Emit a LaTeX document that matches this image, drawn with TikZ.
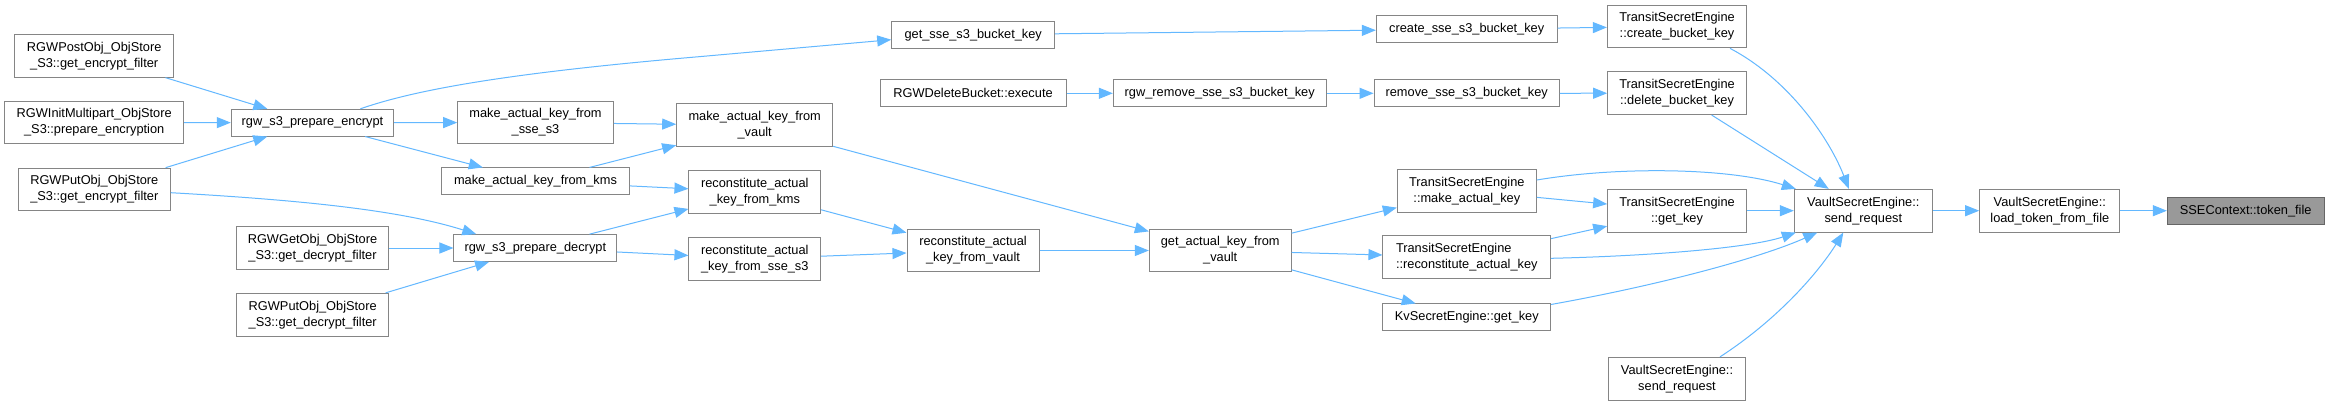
\documentclass[tikz,border=0pt]{standalone}
\usepackage{fontspec}
\setmainfont{Liberation Sans}
\usetikzlibrary{arrows.meta}
\definecolor{edgeblue}{HTML}{63B8FF}
\definecolor{nodeborder}{HTML}{858585}
\definecolor{rootfill}{HTML}{999999}
\definecolor{rootborder}{HTML}{666666}
\tikzset{
  fn/.style={draw=nodeborder, fill=white, line width=1pt, inner sep=0pt,
    font=\fontsize{12.8}{16}\selectfont, align=center, minimum height=26.7pt},
  fn2/.style={fn, minimum height=42.7pt},
  rootfn/.style={fn, fill=rootfill, draw=rootborder},
  edge/.style={draw=edgeblue, line width=1pt, -{Triangle[length=14pt,width=11pt]}}
}
\begin{document}
\begin{tikzpicture}[x=1pt,y=-1pt]
\useasboundingbox[fill=white] (0,0) rectangle (2329,405);
% column 1
\node[fn2, minimum width=159pt] (postenc) at (94.2,55.8) {RGWPostObj\_ObjStore\\\_S3::get\_encrypt\_filter};
\node[fn2, minimum width=179pt] (initmp) at (94.2,122.5) {RGWInitMultipart\_ObjStore\\\_S3::prepare\_encryption};
\node[fn2, minimum width=152pt] (putenc) at (94.3,189.5) {RGWPutObj\_ObjStore\\\_S3::get\_encrypt\_filter};
% column 2
\node[fn, minimum width=162.4pt] (prepenc) at (312.5,122.7) {rgw\_s3\_prepare\_encrypt};
\node[fn2, minimum width=152.4pt] (getdec) at (312.5,248) {RGWGetObj\_ObjStore\\\_S3::get\_decrypt\_filter};
\node[fn2, minimum width=152pt] (putdec) at (312.7,314.7) {RGWPutObj\_ObjStore\\\_S3::get\_decrypt\_filter};
% column 3
\node[fn2, minimum width=155.6pt] (mksse) at (535.5,122.5) {make\_actual\_key\_from\\\_sse\_s3};
\node[fn, minimum width=187.6pt] (mkkms) at (535.5,181.3) {make\_actual\_key\_from\_kms};
\node[fn, minimum width=162.7pt] (prepdec) at (535.3,248) {rgw\_s3\_prepare\_decrypt};
% column 4
\node[fn2, minimum width=156pt] (mkvault) at (754.7,125.2) {make\_actual\_key\_from\\\_vault};
\node[fn2, minimum width=131.7pt] (reckms) at (754.8,192) {reconstitute\_actual\\\_key\_from\_kms};
\node[fn2, minimum width=131.7pt] (recsse) at (754.8,258.7) {reconstitute\_actual\\\_key\_from\_sse\_s3};
% column 5
\node[fn, minimum width=163pt] (getsse) at (973.2,34.7) {get\_sse\_s3\_bucket\_key};
\node[fn, minimum width=186pt] (delexec) at (973,93.3) {RGWDeleteBucket::execute};
\node[fn2, minimum width=132pt] (recvault) at (973,250.5) {reconstitute\_actual\\\_key\_from\_vault};
% column 6
\node[fn, minimum width=212.7pt] (rgwremove) at (1219.7,93.3) {rgw\_remove\_sse\_s3\_bucket\_key};
\node[fn2, minimum width=141.7pt] (getvault) at (1220.2,250.5) {get\_actual\_key\_from\\\_vault};
% column 7
\node[fn, minimum width=180.7pt] (createsse) at (1466.7,29.2) {create\_sse\_s3\_bucket\_key};
\node[fn, minimum width=185.3pt] (removesse) at (1466.7,93.3) {remove\_sse\_s3\_bucket\_key};
\node[fn2, minimum width=139pt] (tsemk) at (1466.8,190.7) {TransitSecretEngine\\::make\_actual\_key};
\node[fn2, minimum width=167.7pt, align=left] (tserec) at (1466.8,257.3) {TransitSecretEngine\\::reconstitute\_actual\_key};
\node[fn, minimum width=167.7pt] (kv) at (1466.8,317.3) {KvSecretEngine::get\_key};
% column 8
\node[fn2, minimum width=139.3pt] (tsecbk) at (1677,26.5) {TransitSecretEngine\\::create\_bucket\_key};
\node[fn2, minimum width=138.7pt] (tsedbk) at (1677,93.2) {TransitSecretEngine\\::delete\_bucket\_key};
\node[fn2, minimum width=138.7pt] (tsegk) at (1677,210.7) {TransitSecretEngine\\::get\_key};
\node[fn2, minimum width=137.7pt] (vsebot) at (1677,378.7) {VaultSecretEngine::\\send\_request};
% columns 9-11
\node[fn2, minimum width=138pt] (vse) at (1863.3,210.7) {VaultSecretEngine::\\send\_request};
\node[fn2, minimum width=140.3pt] (loadtok) at (2049.8,210.7) {VaultSecretEngine::\\load\_token\_from\_file};
\node[rootfn, minimum width=156.7pt] (ssectx) at (2245.7,210.7) {SSEContext::token\_file};

% straight edges
\draw[edge] (postenc) -- (prepenc);
\draw[edge] (initmp) -- (prepenc);
\draw[edge] (putenc) -- (prepenc);
\draw[edge] (getdec) -- (prepdec);
\draw[edge] (putdec) -- (prepdec);
\draw[edge] (prepenc) -- (mksse);
\draw[edge] (prepenc) -- (mkkms);
\draw[edge] (mksse) -- (mkvault);
\draw[edge] (mkkms) -- (mkvault);
\draw[edge] (mkkms) -- (reckms);
\draw[edge] (prepdec) -- (reckms);
\draw[edge] (prepdec) -- (recsse);
\draw[edge] (reckms) -- (recvault);
\draw[edge] (recsse) -- (recvault);
\draw[edge] (mkvault) -- (getvault);
\draw[edge] (recvault) -- (getvault);
\draw[edge] (getsse) -- (createsse);
\draw[edge] (delexec) -- (rgwremove);
\draw[edge] (rgwremove) -- (removesse);
\draw[edge] (createsse) -- (tsecbk);
\draw[edge] (removesse) -- (tsedbk);
\draw[edge] (getvault) -- (tsemk);
\draw[edge] (getvault) -- (tserec);
\draw[edge] (getvault) -- (kv);
\draw[edge] (tsemk) -- (tsegk);
\draw[edge] (tserec) -- (tsegk);
\draw[edge] (tsedbk) -- (vse);
\draw[edge] (tsegk) -- (vse);
\draw[edge] (vse) -- (loadtok);
\draw[edge] (loadtok) -- (ssectx);

% curved edges
\draw[edge] ([xshift=47.8pt]prepenc.north) .. controls (420,88) and (520,72) .. (700,56.6) -- ([yshift=-5pt]getsse.west);
\draw[edge] ([yshift=-3.2pt]putenc.east) .. controls (300,200) and (400,210) .. ([xshift=-59pt]prepdec.north);
\draw[edge] ([yshift=10.7pt]tsemk.east) .. controls (1620,166) and (1730,168) .. ([xshift=2pt]vse.north west);
\draw[edge] ([xshift=53pt]tsecbk.south) .. controls (1790,80) and (1830,140) .. ([xshift=-14.5pt]vse.north);
\draw[edge] ([yshift=-1pt]tserec.east) .. controls (1650,256) and (1750,248) .. ([xshift=2pt]vse.south west);
\draw[edge] ([yshift=-1pt]kv.north east) .. controls (1660,285) and (1760,258) .. ([xshift=-46pt]vse.south);
\draw[edge] ([xshift=43pt]vsebot.north) .. controls (1780,318) and (1820,270) .. ([xshift=-20pt]vse.south);
\end{tikzpicture}
\end{document}
